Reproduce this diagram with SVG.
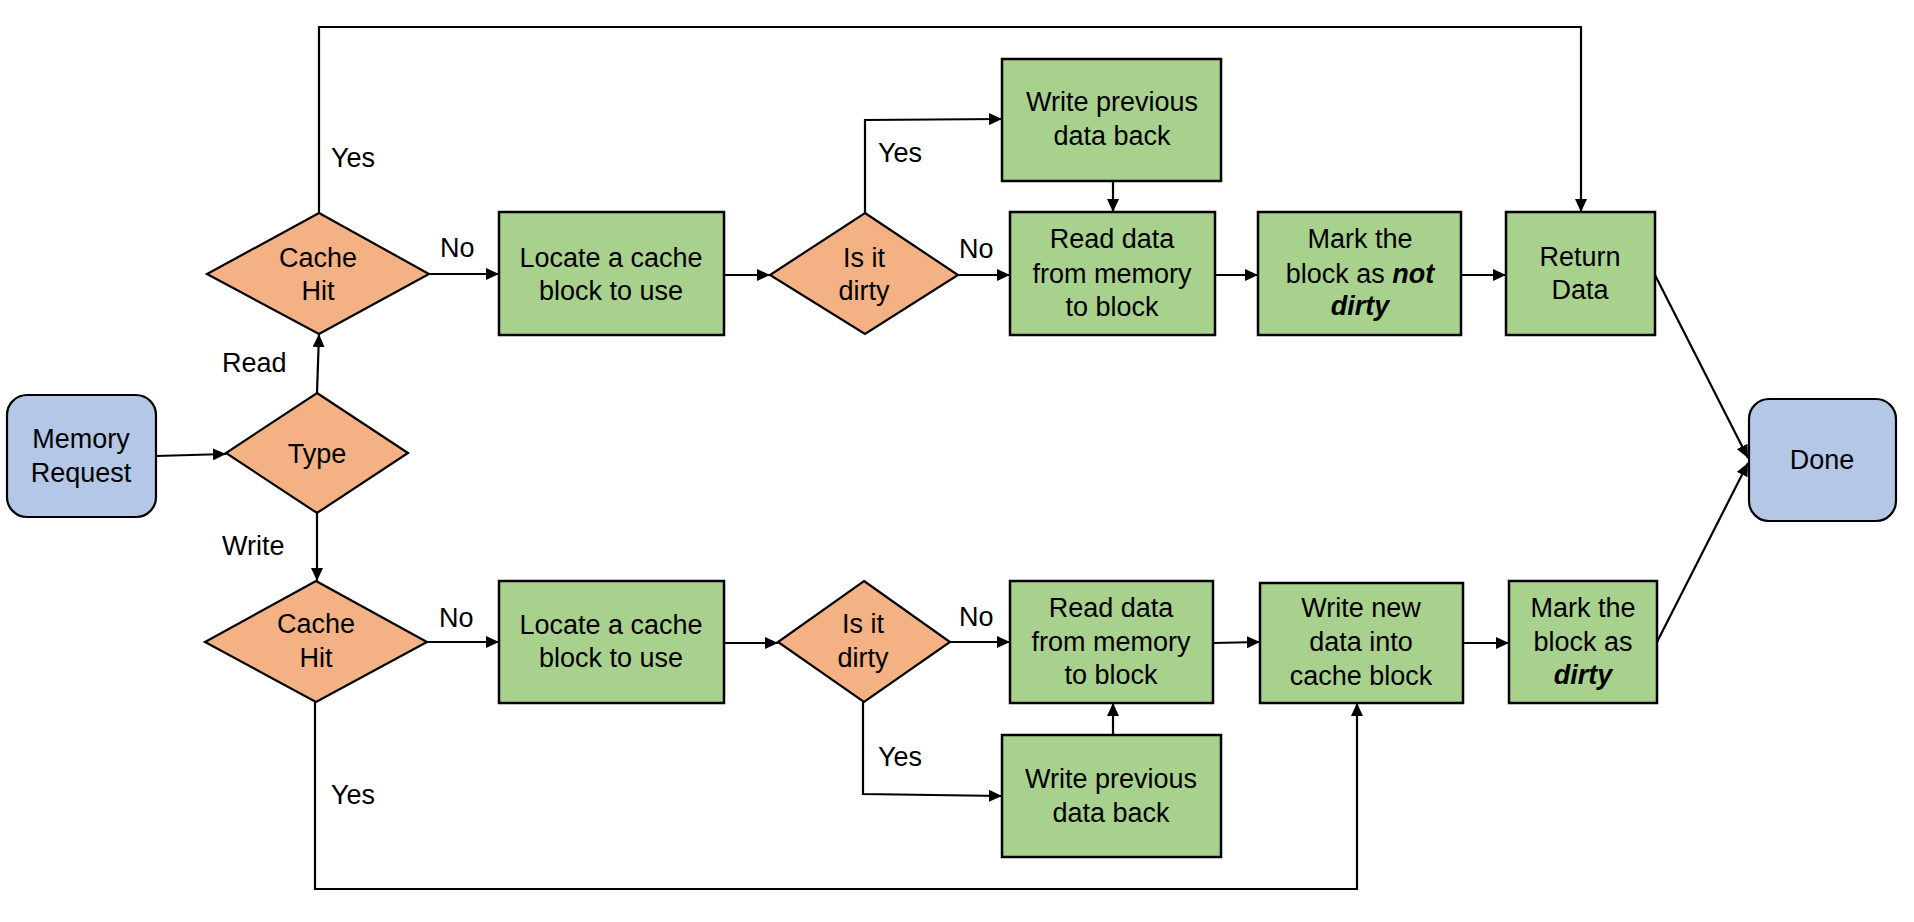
<svg xmlns="http://www.w3.org/2000/svg" width="1914" height="922" viewBox="0 0 1914 922">
<style>
.box{fill:#A9D18E;stroke:#000;stroke-width:2.5}
.dia{fill:#F4B183;stroke:#000;stroke-width:2.2}
.term{fill:#B4C7E7;stroke:#000;stroke-width:2.2}
text{font-family:"Liberation Sans",Arial,sans-serif;font-size:27px;fill:#000}
.c{text-anchor:middle}
.bi{font-weight:bold;font-style:italic}
.conn path{fill:none;stroke:#000;stroke-width:2.2;marker-end:url(#ah)}
</style>
<defs>
<marker id="ah" markerUnits="userSpaceOnUse" markerWidth="14" markerHeight="12" refX="13" refY="6" orient="auto">
<path d="M0,0 L13,6 L0,12 z" fill="#000"/>
</marker>
</defs>
<rect width="1914" height="922" fill="#fff"/>

<g id="connectors" class="conn">
<path d="M156,456 L226,454"/>
<path d="M317,393 L319,334"/>
<path d="M317,513 L317,581"/>
<path d="M428,274 L499,274"/>
<path d="M319,213 V27 H1581 V212"/>
<path d="M724,275 L770,275"/>
<path d="M865,213 V120 L1002,119"/>
<path d="M958,275 L1010,275"/>
<path d="M1113,181 L1113,212"/>
<path d="M1215,275 L1258,275"/>
<path d="M1461,275 L1506,275"/>
<path d="M1655,275 L1748,458"/>
<path d="M426,642 L499,642"/>
<path d="M315,702 V889 H1357 V703"/>
<path d="M724,643 L778,643"/>
<path d="M950,642 L1010,642"/>
<path d="M863,702 V794 L1002,796"/>
<path d="M1113,735 L1113,703"/>
<path d="M1213,643 L1260,642"/>
<path d="M1463,643 L1509,643"/>
<path d="M1657,642 L1748,463"/>
</g>

<g id="labels">
<text x="331" y="167">Yes</text>
<text x="440" y="257">No</text>
<text x="222" y="372">Read</text>
<text x="222" y="555">Write</text>
<text x="439" y="627">No</text>
<text x="331" y="804">Yes</text>
<text x="878" y="162">Yes</text>
<text x="959" y="258">No</text>
<text x="959" y="626">No</text>
<text x="878" y="766">Yes</text>
</g>

<g id="memory-request">
<rect class="term" x="7" y="395" width="149" height="122" rx="20"/>
<text class="c" x="81" y="448">Memory</text>
<text class="c" x="81" y="482">Request</text>
</g>

<g id="type">
<polygon class="dia" points="317,393 408,453 317,513 226,453"/>
<text class="c" x="317" y="463">Type</text>
</g>

<g id="cache-hit-read">
<polygon class="dia" points="319,213 429,274 319,334 207,274"/>
<text class="c" x="318" y="267">Cache</text>
<text class="c" x="318" y="300">Hit</text>
</g>

<g id="locate-read">
<rect class="box" x="499" y="212" width="225" height="123"/>
<text class="c" x="611" y="267">Locate a cache</text>
<text class="c" x="611" y="300">block to use</text>
</g>

<g id="dirty-read">
<polygon class="dia" points="865,213 958,275 865,334 770,275"/>
<text class="c" x="864" y="267">Is it</text>
<text class="c" x="864" y="300">dirty</text>
</g>

<g id="write-prev-read">
<rect class="box" x="1002" y="59" width="219" height="122"/>
<text class="c" x="1112" y="111">Write previous</text>
<text class="c" x="1112" y="145">data back</text>
</g>

<g id="read-data-read">
<rect class="box" x="1010" y="212" width="205" height="123"/>
<text class="c" x="1112" y="248">Read data</text>
<text class="c" x="1112" y="283">from memory</text>
<text class="c" x="1112" y="316">to block</text>
</g>

<g id="mark-not-dirty">
<rect class="box" x="1258" y="212" width="203" height="123"/>
<text class="c" x="1360" y="248">Mark the</text>
<text class="c" x="1360" y="283">block as <tspan class="bi">not</tspan></text>
<text class="c bi" x="1360" y="315">dirty</text>
</g>

<g id="return-data">
<rect class="box" x="1506" y="212" width="149" height="123"/>
<text class="c" x="1580" y="266">Return</text>
<text class="c" x="1580" y="299">Data</text>
</g>

<g id="done">
<rect class="term" x="1749" y="399" width="147" height="122" rx="20"/>
<text class="c" x="1822" y="469">Done</text>
</g>

<g id="cache-hit-write">
<polygon class="dia" points="316,581 427,642 316,702 205,642"/>
<text class="c" x="316" y="633">Cache</text>
<text class="c" x="316" y="667">Hit</text>
</g>

<g id="locate-write">
<rect class="box" x="499" y="581" width="225" height="122"/>
<text class="c" x="611" y="634">Locate a cache</text>
<text class="c" x="611" y="667">block to use</text>
</g>

<g id="dirty-write">
<polygon class="dia" points="864,581 950,642 864,702 778,642"/>
<text class="c" x="863" y="633">Is it</text>
<text class="c" x="863" y="667">dirty</text>
</g>

<g id="read-data-write">
<rect class="box" x="1010" y="581" width="203" height="122"/>
<text class="c" x="1111" y="617">Read data</text>
<text class="c" x="1111" y="651">from memory</text>
<text class="c" x="1111" y="684">to block</text>
</g>

<g id="write-prev-write">
<rect class="box" x="1002" y="735" width="219" height="122"/>
<text class="c" x="1111" y="788">Write previous</text>
<text class="c" x="1111" y="822">data back</text>
</g>

<g id="write-new">
<rect class="box" x="1260" y="583" width="203" height="120"/>
<text class="c" x="1361" y="617">Write new</text>
<text class="c" x="1361" y="651">data into</text>
<text class="c" x="1361" y="685">cache block</text>
</g>

<g id="mark-dirty">
<rect class="box" x="1509" y="581" width="148" height="122"/>
<text class="c" x="1583" y="617">Mark the</text>
<text class="c" x="1583" y="651">block as</text>
<text class="c bi" x="1583" y="684">dirty</text>
</g>
</svg>
